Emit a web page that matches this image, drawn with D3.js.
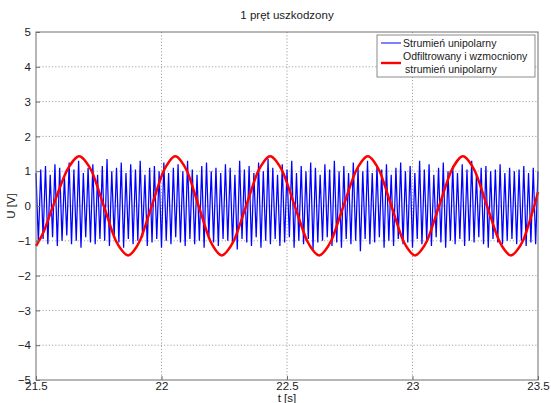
<!DOCTYPE html>
<html>
<head>
<meta charset="utf-8">
<script src="https://cdn.jsdelivr.net/npm/d3@7"></script>
<style>
  body { margin: 0; background: #fff; }
  svg text { font-family: "Liberation Sans", Arial, sans-serif; fill: #1a1a1a; }
  .grid line { stroke: #8c8c8c; stroke-width: 0.8; stroke-dasharray: 1.2,2; }
  .axis text { font-size: 11.5px; }
  .axis line { stroke: #6e6e6e; }
  .axis path { display: none; }
</style>
</head>
<body>
<svg id="chart" width="551" height="403"></svg>
<script>
// tick labels
var xTicks = [21.5, 22, 22.5, 23, 23.5];
var yTicks = [-5, -4, -3, -2, -1, 0, 1, 2, 3, 4, 5];

// strumien unipolarny: sample values, peak / trough alternating
var tStart = 21.5, tEnd = 23.5;
var fluxPeaks = [
  0.95, 1.05, 1.15, 0.9, 1.2, 1.1, 0.85, 1.25, 1.05, 1.3,
  0.95, 1.1, 1.2, 0.9, 1.15, 1.35, 1.0, 1.1, 1.25, 0.95,
  1.2, 1.05, 1.3, 0.9, 1.1, 1.15, 1.0, 1.25, 0.95, 1.1,
  1.2, 1.0, 1.3, 1.05, 0.9, 1.15, 1.25, 1.0, 1.1, 0.95,
  1.2, 1.1, 0.9, 1.3, 1.05, 1.15, 0.95, 1.25, 1.0, 1.35,
  1.1, 0.9, 1.2, 1.05, 1.3, 0.95, 1.15, 1.0, 1.25, 1.1,
  0.9, 1.2, 1.05, 1.3, 1.0, 1.15, 0.95, 1.25, 1.1, 1.0,
  1.3, 0.95, 1.15, 1.05, 1.2, 0.9, 1.1, 1.25, 1.0, 1.15,
  0.95, 1.3, 1.05, 1.2, 0.9, 1.1, 1.25, 1.0, 1.15, 0.95,
  1.2, 1.05, 1.3, 0.9, 1.1, 1.15, 1.0, 1.05, 1.2, 0.95,
  1.1, 1.0, 1.05, 1.15, 0.95, 1.1, 1.0
];
var fluxTroughs = [
  -1.05, -0.95, -1.1, -0.9, -1.15, -1.0, -0.85, -1.1, -1.0, -1.2,
  -0.9, -1.05, -1.1, -0.95, -1.0, -1.15, -0.9, -1.05, -1.2, -0.95,
  -1.1, -1.0, -0.9, -1.15, -1.05, -0.95, -1.2, -1.0, -1.1, -0.9,
  -1.05, -1.15, -0.95, -1.1, -1.0, -1.2, -0.9, -1.05, -1.15, -0.95,
  -1.0, -1.1, -1.25, -0.95, -1.05, -1.15, -0.9, -1.2, -1.0, -1.1,
  -0.95, -1.15, -1.05, -0.9, -1.2, -1.0, -1.1, -0.95, -1.25, -1.05,
  -1.0, -0.9, -1.15, -1.05, -1.2, -0.95, -1.1, -1.0, -1.3, -0.95,
  -1.1, -1.05, -0.9, -1.2, -1.0, -1.15, -0.95, -1.1, -1.05, -1.2,
  -0.95, -1.1, -1.0, -1.15, -0.9, -1.05, -1.2, -1.0, -1.1, -0.95,
  -1.15, -1.0, -1.05, -0.9, -1.1, -1.2, -0.95, -1.05, -1.1, -1.0,
  -0.95, -1.1, -1.0, -1.15, -1.05, -1.1
];

// odfiltrowany i wzmocniony strumien: points
var redT = [21.5, 21.53, 21.568, 21.622, 21.672, 21.722, 21.770, 21.818, 21.867,
            21.914, 21.961, 22.008, 22.055, 22.102, 22.148, 22.194, 22.240,
            22.288, 22.337, 22.385, 22.433, 22.482, 22.531, 22.580, 22.628,
            22.676, 22.725, 22.774, 22.822, 22.869, 22.916, 22.963, 23.010,
            23.058, 23.106, 23.154, 23.201, 23.249, 23.297, 23.345, 23.392,
            23.440, 23.485, 23.5];
var redV = [-1.15, -0.75, 0, 1.0, 1.43, 1.0, 0, -1.0, -1.42,
            -1.0, 0, 1.0, 1.43, 1.0, 0, -1.0, -1.42,
            -1.0, 0, 1.0, 1.43, 1.0, 0, -1.0, -1.42,
            -1.0, 0, 1.0, 1.43, 1.0, 0, -1.0, -1.42,
            -1.0, 0, 1.0, 1.43, 1.0, 0, -1.0, -1.42,
            -1.0, 0, 0.4];

var svg = d3.select("svg#chart"),
    margin = {top: 32, right: 13, bottom: 23, left: 36},
    width = +svg.attr("width") - margin.left - margin.right,
    height = +svg.attr("height") - margin.top - margin.bottom;

var x = d3.scaleLinear().domain([tStart, tEnd]).range([0, width]);
var y = d3.scaleLinear().domain([-5, 5]).range([height, 0]);

var g = svg.append("g")
    .attr("transform", "translate(" + margin.left + "," + margin.top + ")");

// grid
g.append("g").attr("class", "grid")
  .selectAll("line").data(xTicks.slice(1, -1)).enter().append("line")
    .attr("x1", function(d) { return x(d); }).attr("x2", function(d) { return x(d); })
    .attr("y1", 0).attr("y2", height);
g.append("g").attr("class", "grid")
  .selectAll("line").data(yTicks.slice(1, -1)).enter().append("line")
    .attr("y1", function(d) { return y(d); }).attr("y2", function(d) { return y(d); })
    .attr("x1", 0).attr("x2", width);

// blue signal
var flux = [];
fluxPeaks.forEach(function(p, i) {
  flux.push(p);
  if (i < fluxTroughs.length) flux.push(fluxTroughs[i]);
});
var dt = (tEnd - tStart) / (flux.length - 1);
var fluxData = flux.map(function(v, i) { return {t: tStart + i * dt, v: v}; });

var line = d3.line()
    .x(function(d) { return x(d.t); })
    .y(function(d) { return y(d.v); });

g.append("path")
    .datum(fluxData)
    .attr("fill", "none")
    .attr("stroke", "#0000ff")
    .attr("stroke-width", 1.25)
    .attr("d", line);

var redData = redT.map(function(t, i) { return {t: t, v: redV[i]}; });
g.append("path")
    .datum(redData)
    .attr("fill", "none")
    .attr("stroke", "#ff0000")
    .attr("stroke-width", 2.5)
    .attr("d", line.curve(d3.curveCardinal.tension(0.2)));

// axes
g.append("g")
    .attr("class", "axis axis--x")
    .attr("transform", "translate(0," + height + ")")
    .call(d3.axisBottom(x).tickValues(xTicks).tickSizeInner(-4).tickSizeOuter(0).tickPadding(2)
      .tickFormat(function(d) { return d3.format("")(d); }));

g.append("g")
    .attr("class", "axis axis--y")
    .call(d3.axisLeft(y).tickValues(yTicks).tickSizeInner(-4).tickSizeOuter(0).tickPadding(5));

g.append("rect")
    .attr("width", width)
    .attr("height", height)
    .attr("fill", "none")
    .attr("stroke", "#6e6e6e")
    .attr("stroke-width", 1);

// title and labels
svg.append("text")
    .attr("x", margin.left + width / 2)
    .attr("y", 19)
    .attr("text-anchor", "middle")
    .style("font-size", "11.5px")
    .text("1 pręt uszkodzony");

svg.append("text")
    .attr("x", margin.left + width / 2)
    .attr("y", 402)
    .attr("text-anchor", "middle")
    .style("font-size", "11.5px")
    .text("t [s]");

svg.append("text")
    .attr("transform", "translate(15," + (margin.top + height / 2) + ") rotate(-90)")
    .attr("text-anchor", "middle")
    .style("font-size", "11.5px")
    .text("U [V]");

// legend
var lg = svg.append("g").attr("transform", "translate(377,35)");
lg.append("rect")
    .attr("width", 158).attr("height", 42)
    .attr("fill", "#fff").attr("stroke", "#6e6e6e").attr("stroke-width", 0.8);
lg.append("line").attr("x1", 4).attr("x2", 24).attr("y1", 8).attr("y2", 8)
    .attr("stroke", "#0000ff").attr("stroke-width", 1);
lg.append("text").attr("x", 26).attr("y", 12).style("font-size", "10.5px").text("Strumień unipolarny");
lg.append("line").attr("x1", 4).attr("x2", 24).attr("y1", 28).attr("y2", 28)
    .attr("stroke", "#ff0000").attr("stroke-width", 2.4);
lg.append("text").attr("x", 26).attr("y", 25).style("font-size", "10.5px").text("Odfiltrowany i wzmocniony");
lg.append("text").attr("x", 28).attr("y", 38).style("font-size", "10.5px").text("strumień unipolarny");
</script>
</body>
</html>
